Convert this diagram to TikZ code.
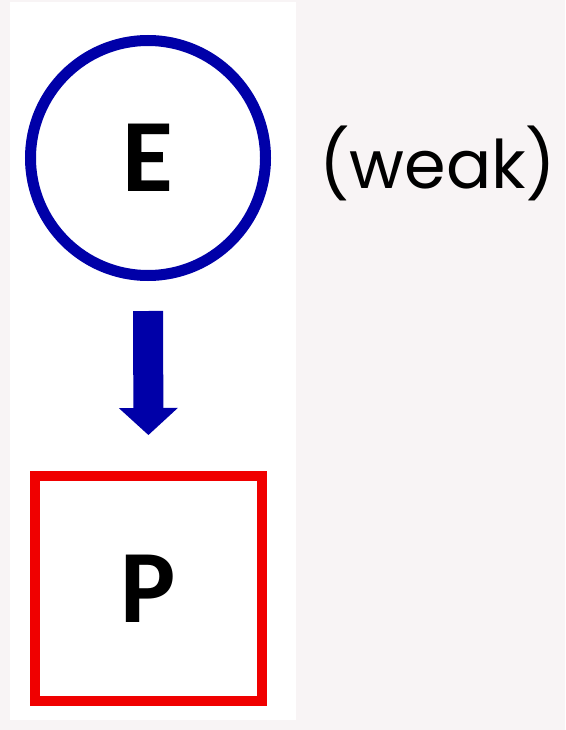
\documentclass[tikz,border=0pt]{standalone}
\usepackage{fontspec}
\newfontfamily\lettersfont{Carlito}
\newfontfamily\notefont{Poppins}
\usetikzlibrary{arrows.meta}

\definecolor{pagegray}{RGB}{248,244,245}
\definecolor{causeblue}{RGB}{0,0,168}
\definecolor{effectred}{RGB}{240,0,0}

\begin{document}
\begin{tikzpicture}[x=1pt,y=-1pt,
    letter/.style={font=\lettersfont\bfseries\fontsize{104}{104}\selectfont, text=black, inner sep=0pt},
    causecircle/.style={letter, circle, draw=causeblue, line width=11pt, fill=white, minimum size=235pt},
    effectbox/.style={letter, rectangle, draw=effectred, line width=10pt, fill=white, minimum width=227pt, minimum height=225pt},
    fatarrow/.style={draw=causeblue, line width=30pt, -{Triangle[width=59pt,length=27pt,line width=0pt]}}
]

    % --- Background ---
    \fill[pagegray] (0,0) rectangle (565,730);
    \fill[white] (10,2) rectangle (296,720);
    \useasboundingbox (0,0) rectangle (565,730);

    % --- Coordinates ---
    % centre of the circle E
    \coordinate (CE) at (148,158);
    % centre of the square P
    \coordinate (CP) at (148.5,588.5);

    % --- Nodes ---
    \node[causecircle] (E) at (CE) {E};
    \node[effectbox] (P) at (CP) {P};

    % --- Arrow E to P ---
    \draw[fatarrow, shorten <=30pt, shorten >=36pt] (E.south) -- (P.north);

    % --- Label ---
    \node[anchor=base west, inner sep=0pt,
          font=\notefont\fontsize{67}{72}\selectfont] (weak) at (319,189) {(weak)};

\end{tikzpicture}
\end{document}
